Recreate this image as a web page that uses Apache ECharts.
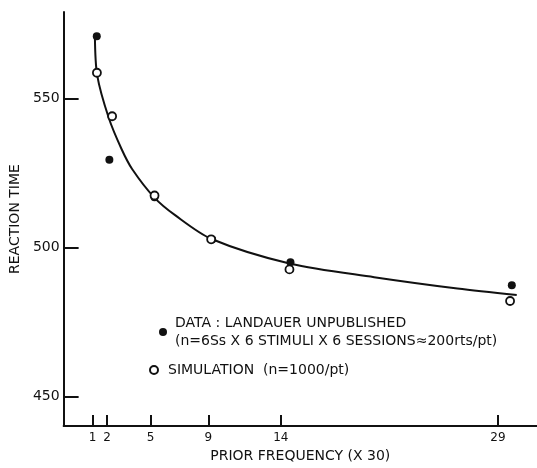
<!DOCTYPE html>
<html>
  <head>
    <meta charset="utf-8" />
    <script src="https://cdn.jsdelivr.net/npm/echarts@6/dist/echarts.min.js"></script>
  </head>
  <body>
    <style>
      #main,
      html,
      body {
        width: 100%;
        height: 100%;
        margin: 0;
        overflow: hidden;
        background: #fff;
      }
    </style>
    <div id="main"></div>
    <script type="text/javascript">
      // values: [prior frequency, reaction time]
      var dataPoints = [[1.29, 570.9], [2.16, 529.4], [5.28, 516.8], [9.26, 502.6], [14.67, 495.0], [29.96, 487.3]];
      var simPoints = [[1.30, 558.6], [2.35, 544.0], [5.28, 517.4], [9.19, 502.7], [14.60, 492.6], [29.84, 482.0]];
      // fitted curve traced through the figure
      var curvePoints = [[1.16, 570.9], [1.32, 557.7], [2.12, 543.4], [3.0, 533.0], [3.73, 526.3], [5.27, 516.7],
        [6.7, 510.8], [9.22, 502.8], [14.67, 494.5], [20.45, 490.0], [26.2, 486.2], [30.3, 484.0]];
      var xTicks = [1, 2, 5, 9, 14, 29];
      var yTicks = [450, 500, 550];

      var dataName = 'DATA : LANDAUER UNPUBLISHED';
      var dataNote = '(n=6Ss X 6 STIMULI X 6 SESSIONS\u2248200rts/pt)';
      var simName = 'SIMULATION  (n=1000/pt)';

      var font = 'DejaVu Sans';
      var myChart = echarts.init(document.getElementById('main'));

      var legendText = { fontFamily: font, fontSize: 14, color: '#111', lineHeight: 18 };

      var option = {
        animation: false,
        backgroundColor: '#fff',
        grid: { left: 61, right: 0, top: 12, bottom: 35 },
        legend: [
          {
            left: 159,
            top: 314,
            padding: 0,
            itemWidth: 14,
            itemHeight: 8,
            data: [{ name: dataName, icon: 'circle' }],
            textStyle: legendText,
            formatter: function (name) {
              return name + '\n' + dataNote;
            }
          },
          {
            left: 149,
            top: 361,
            padding: 0,
            itemWidth: 18,
            itemHeight: 8,
            data: [{ name: simName, icon: 'circle' }],
            textStyle: legendText
          }
        ],
        xAxis: {
          type: 'value',
          min: -1,
          max: 31.7,
          name: 'PRIOR FREQUENCY (X 30)',
          nameLocation: 'middle',
          nameGap: 21,
          nameTextStyle: { fontFamily: font, fontSize: 14, color: '#111' },
          splitLine: { show: false },
          axisLine: { lineStyle: { color: '#111', width: 2 } },
          axisTick: { inside: true, length: 11, customValues: xTicks, lineStyle: { color: '#111', width: 2 } },
          axisLabel: { customValues: xTicks, margin: 6, fontFamily: font, fontSize: 12, color: '#111' }
        },
        yAxis: {
          type: 'value',
          min: 440,
          max: 579,
          name: 'REACTION TIME',
          nameLocation: 'middle',
          nameGap: 38,
          nameTextStyle: { fontFamily: font, fontSize: 14, color: '#111' },
          splitLine: { show: false },
          axisLine: { show: true, onZero: false, lineStyle: { color: '#111', width: 2 } },
          axisTick: { show: true, inside: true, length: 15, customValues: yTicks, lineStyle: { color: '#111', width: 2 } },
          axisLabel: { customValues: yTicks, margin: 4, fontFamily: font, fontSize: 14, color: '#111' }
        },
        series: [
          {
            name: 'curve',
            type: 'line',
            data: curvePoints,
            smooth: 0.3,
            showSymbol: false,
            lineStyle: { color: '#111', width: 2 },
            z: 1
          },
          {
            name: dataName,
            type: 'scatter',
            data: dataPoints,
            symbol: 'circle',
            symbolSize: 8,
            itemStyle: { color: '#111', opacity: 1 },
            z: 3
          },
          {
            name: simName,
            type: 'scatter',
            data: simPoints,
            symbol: 'circle',
            symbolSize: 8,
            itemStyle: { color: '#fff', borderColor: '#111', borderWidth: 1.8, opacity: 1 },
            z: 4
          }
        ]
      };

      myChart.setOption(option);
      window.addEventListener('resize', function () {
        myChart.resize();
      });
    </script>
  </body>
</html>
